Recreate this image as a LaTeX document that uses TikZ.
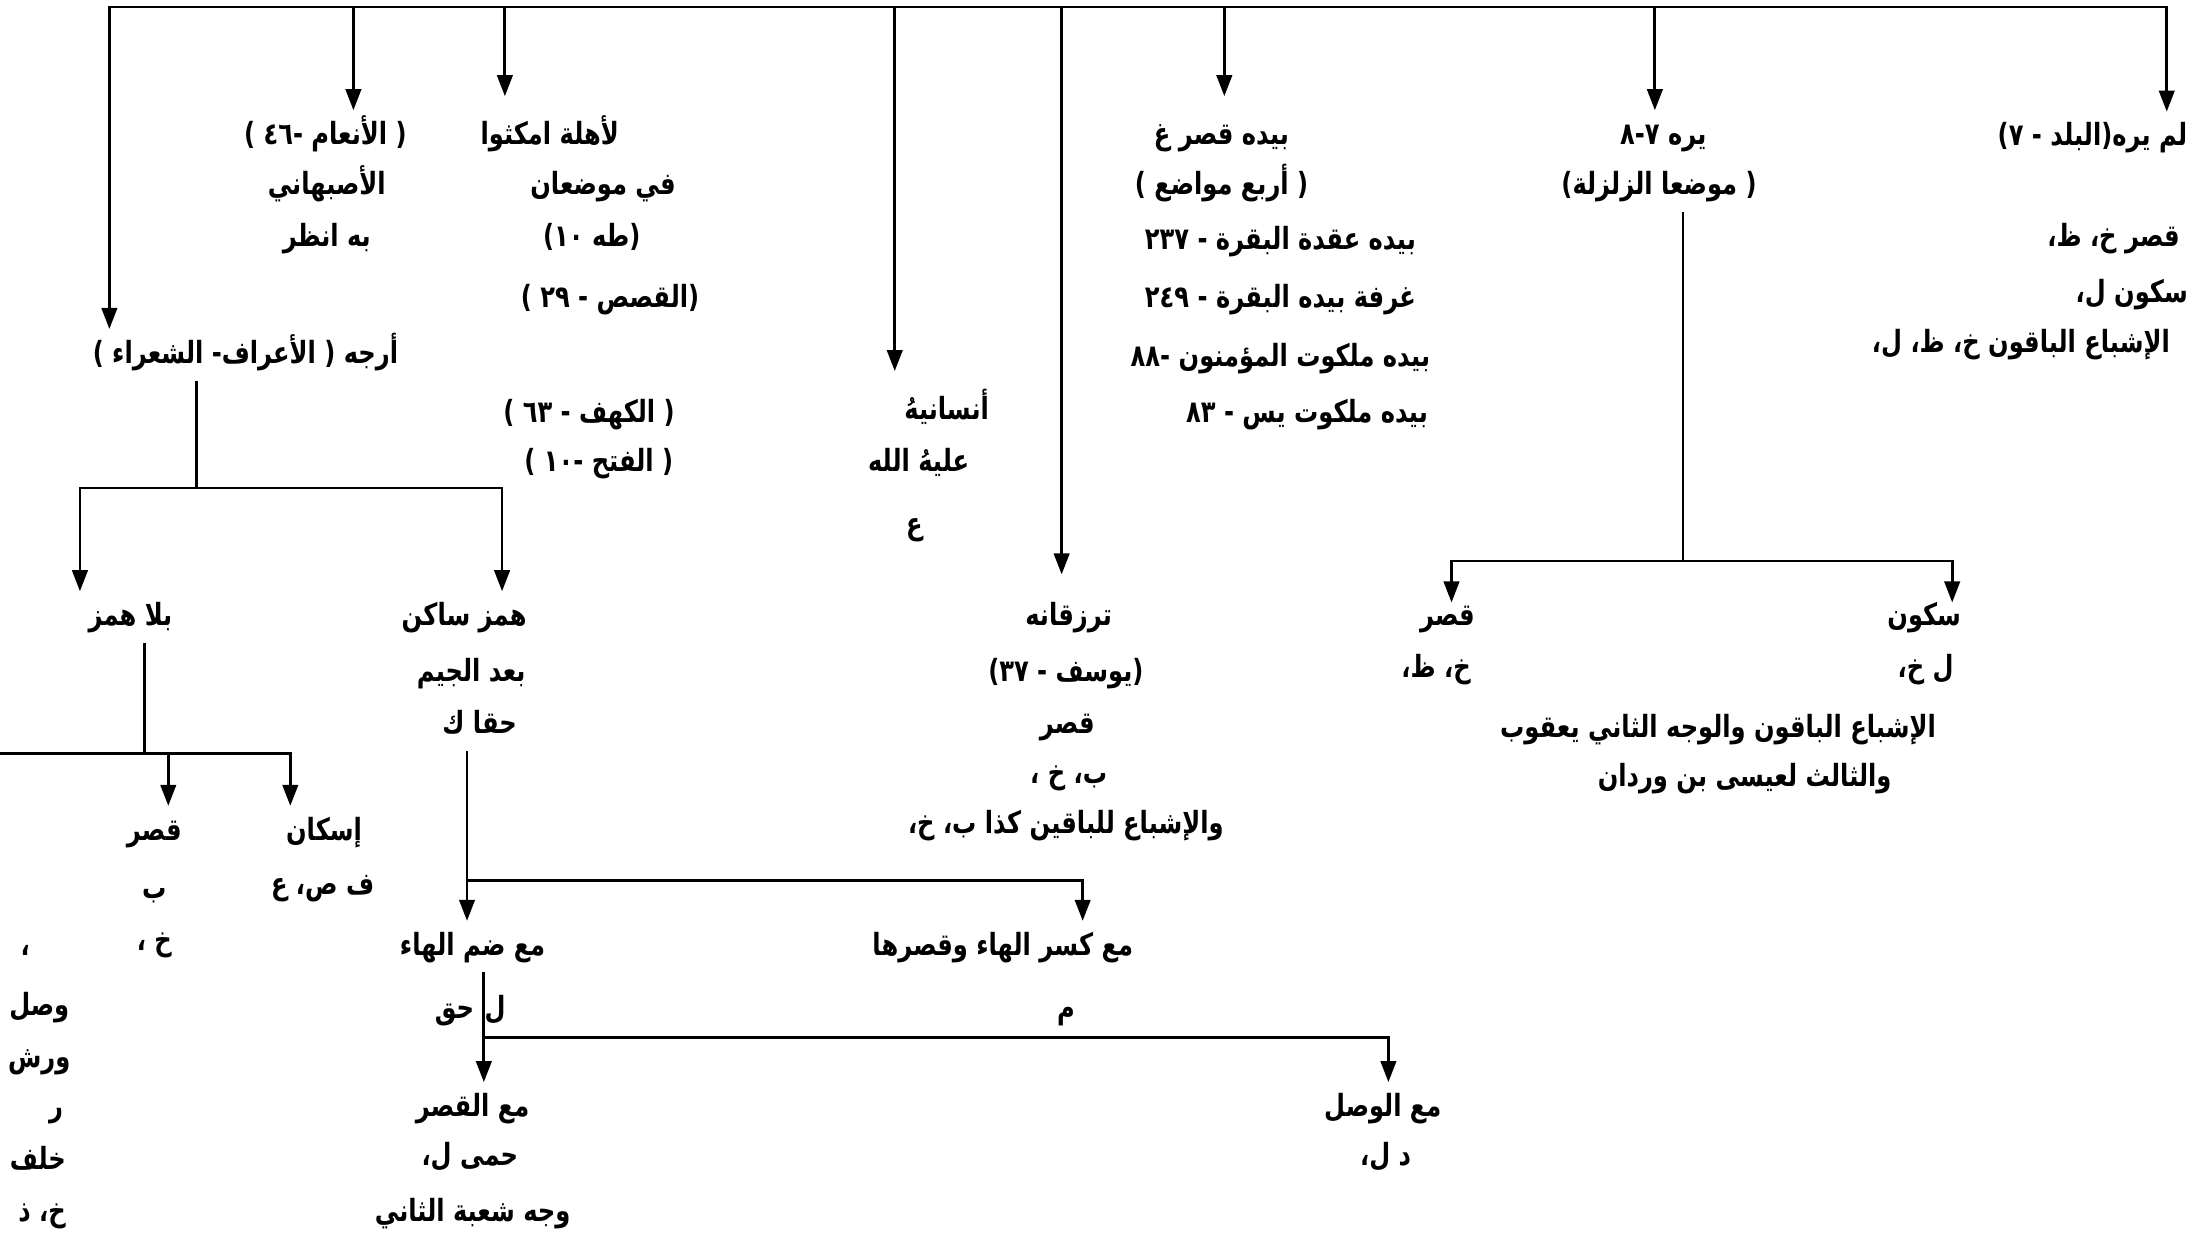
\documentclass[tikz,border=0pt]{standalone}
\usepackage{fontspec}
\newfontfamily\arfont[Script=Arabic,FakeStretch=0.79]{DejaVu Sans}
\TeXXeTstate=1
\usetikzlibrary{arrows.meta}
\newcommand\AR[1]{\beginR #1\endR}
\begin{document}
\begin{tikzpicture}[x=0.5pt,y=-0.5pt,
  txt/.style={font=\arfont\bfseries\fontsize{10.9}{12}\selectfont, inner xsep=0pt, inner ysep=3pt, text height=9pt, text depth=3pt},
  ln/.style={line width=1pt},
  arr/.style={ln,-{Triangle[width=5.5pt,length=7.5pt]}},
  arrr/.style={ln,{Triangle[width=5.5pt,length=7.5pt]}-{Triangle[width=5.5pt,length=7.5pt]}}]
\useasboundingbox (0,0) rectangle (1568,883);
% right branch
\node[txt] (R1) at (1492,98) {\AR{لم يره(البلد - ٧)}};
\node[txt] (R2) at (1507,170) {\AR{قصر خ، ظ،}};
\node[txt] (R3) at (1520,210) {\AR{سكون ل،}};
\node[txt] (R4) at (1441,245) {\AR{الإشباع الباقون خ، ظ، ل،}};
% zalzala branch
\node[txt] (Z1) at (1186,97) {\AR{يره ٧-٨}};
\node[txt] (Z2) at (1183,133) {\AR{( موضعا الزلزلة)}};
\node[txt] (Z3) at (1032,440) {\AR{قصر}};
\node[txt] (Z4) at (1024,477) {\AR{خ، ظ،}};
\node[txt] (Z5) at (1372,440) {\AR{سكون}};
\node[txt] (Z6) at (1373,477) {\AR{ل خ،}};
\node[txt] (Z7) at (1225,520) {\AR{الإشباع الباقون والوجه الثاني يعقوب}};
\node[txt] (Z8) at (1244,555) {\AR{والثالث لعيسى بن وردان}};
% biyadihi branch
\node[txt] (B1) at (871,97) {\AR{بيده قصر غ}};
\node[txt] (B2) at (871,133) {\AR{( أربع مواضع )}};
\node[txt] (B3) at (913,172) {\AR{بيده عقدة البقرة - ٢٣٧}};
\node[txt] (B4) at (913,213) {\AR{غرفة بيده البقرة - ٢٤٩}};
\node[txt] (B5) at (913,255) {\AR{بيده ملكوت المؤمنون -٨٨}};
\node[txt] (B6) at (932,295) {\AR{بيده ملكوت يس - ٨٣}};
% turzaqanihi branch
\node[txt] (T1) at (762,440) {\AR{ترزقانه}};
\node[txt] (T2) at (760,480) {\AR{(يوسف - ٣٧)}};
\node[txt] (T3) at (761,517) {\AR{قصر}};
\node[txt] (T4) at (762,553) {\AR{ب، خ ،}};
\node[txt] (T5) at (760,588) {\AR{والإشباع للباقين كذا ب، خ،}};
% ansanihu branch
\node[txt] (I1) at (675,293) {\AR{أنسانيهُ}};
\node[txt] (I2) at (655,330) {\AR{عليهُ الله}};
\node[txt] (I3) at (652,375) {\AR{ع}};
% li-ahlihi branch
\node[txt] (L1) at (392,97) {\AR{لأهلة امكثوا}};
\node[txt] (L2) at (430,133) {\AR{في موضعان}};
\node[txt] (L3) at (422,170) {\AR{(طه ١٠)}};
\node[txt] (L4) at (435,213) {\AR{(القصص - ٢٩ )}};
\node[txt] (L5) at (420,295) {\AR{( الكهف - ٦٣ )}};
\node[txt] (L6) at (427,330) {\AR{( الفتح -١٠ )}};
% an'am branch
\node[txt] (A1) at (232,97) {\AR{( الأنعام -٤٦ )}};
\node[txt] (A2) at (233,133) {\AR{الأصبهاني}};
\node[txt] (A3) at (233,170) {\AR{به انظر}};
% arjih branch
\node[txt] (J1) at (175,253) {\AR{أرجه ( الأعراف- الشعراء )}};
\node[txt] (H1) at (93,440) {\AR{بلا همز}};
\node[txt] (H2) at (110,593) {\AR{قصر}};
\node[txt] (H3) at (110,635) {\AR{ب}};
\node[txt] (H4) at (110,672) {\AR{خ ،}};
\node[txt] (H5) at (231,593) {\AR{إسكان}};
\node[txt] (H6) at (230,632) {\AR{ف ص، ع}};
\node[txt] (W1) at (18,675) {\AR{،}};
\node[txt] (W2) at (28,718) {\AR{وصل}};
\node[txt] (W3) at (28,755) {\AR{ورش}};
\node[txt] (W4) at (40,790) {\AR{ر}};
\node[txt] (W5) at (27,828) {\AR{خلف}};
\node[txt] (W6) at (30,865) {\AR{خ، ذ}};
\node[txt] (S1) at (331,440) {\AR{همز ساكن}};
\node[txt] (S2) at (336,480) {\AR{بعد الجيم}};
\node[txt] (S3) at (342,517) {\AR{حقا ك}};
\node[txt] (M1) at (337,675) {\AR{مع ضم الهاء}};
\node[txt] (M2) at (715,675) {\AR{مع كسر الهاء وقصرها}};
\node[txt] (M3) at (760,720) {\AR{م}};
\node[txt] (M4) at (324,720) {\AR{حق}};
\node[txt] (M5) at (353,720) {\AR{ل}};
\node[txt] (Q1) at (337,790) {\AR{مع القصر}};
\node[txt] (Q2) at (335,825) {\AR{حمى ل،}};
\node[txt] (Q3) at (337,865) {\AR{وجه شعبة الثاني}};
\node[txt] (V1) at (986,790) {\AR{مع الوصل}};
\node[txt] (V2) at (988,825) {\AR{د ل،}};
% coordinates
\coordinate (tL) at (78,5);
\coordinate (tR) at (1545,5);
\coordinate (dA) at (252,5);
\coordinate (dL) at (360,5);
\coordinate (dI) at (638,5);
\coordinate (dT) at (757,5);
\coordinate (dB) at (873,5);
\coordinate (dZ) at (1180,5);
\coordinate (jc) at (140,348);
\coordinate (jl) at (57,348);
\coordinate (jr) at (358,348);
\coordinate (hc) at (103,537);
\coordinate (h0) at (0,537);
\coordinate (hq) at (120,537);
\coordinate (hs) at (207,537);
\coordinate (sc) at (333,628);
\coordinate (sr) at (772,628);
\coordinate (mc) at (345,740);
\coordinate (mr) at (990,740);
\coordinate (zc) at (1200,400);
\coordinate (zl) at (1035,400);
\coordinate (zr) at (1392,400);
% connectors
\draw[arrr] (J1.north -| tL) -- (tL) -- (tR) -- (R1.north -| tR);
\draw[arr] (dA) -- (A1.north -| dA);
\draw[arr,shorten >=5pt] (dL) -- (L1.north -| dL);
\draw[arr,shorten >=5pt] (dI) -- (I1.north -| dI);
\draw[arr,shorten >=6pt] (dT) -- (T1.north -| dT);
\draw[arr,shorten >=5pt] (dB) -- (B1.north -| dB);
\draw[arr] (dZ) -- (Z1.north -| dZ);
\draw[ln] (Z2.south -| zc) -- (zc);
\draw[arrr,shorten <=-4pt,shorten >=-4pt] (Z3.north -| zl) -- (zl) -- (zr) -- (Z5.north -| zr);
\draw[ln] (J1.south -| jc) -- (jc);
\draw[arrr] (H1.north -| jl) -- (jl) -- (jr) -- (S1.north -| jr);
\draw[ln] (H1.south -| hc) -- (hc);
\draw[arr] (h0) -- (hs) -- (H5.north -| hs);
\draw[arr] (hq) -- (H2.north -| hq);
\draw[arr] (S3.south -| sc) -- (M1.north -| sc);
\draw[arr] (sc) -- (sr) -- (M2.north -| sr);
\draw[arr] (M1.south -| mc) -- (Q1.north -| mc);
\draw[arr] (mc) -- (mr) -- (V1.north -| mr);
\end{tikzpicture}
\end{document}
